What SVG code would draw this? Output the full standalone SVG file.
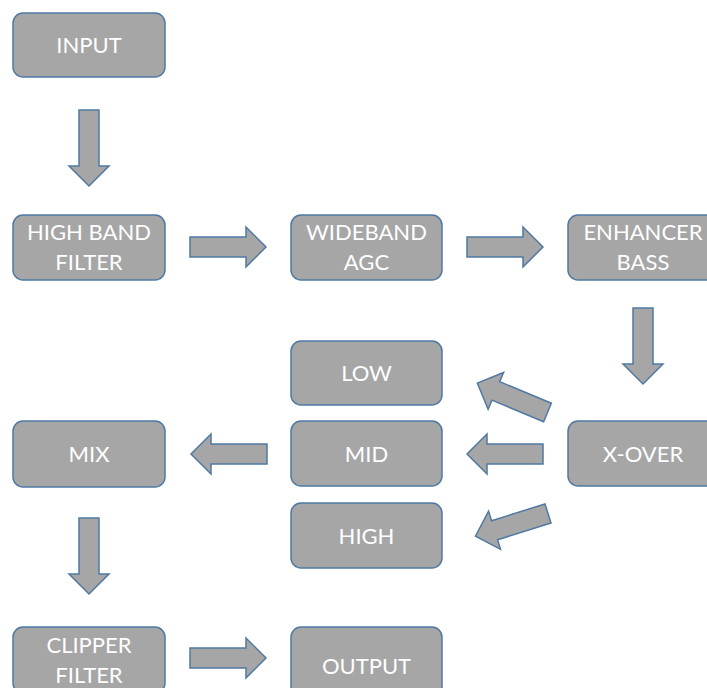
<svg xmlns="http://www.w3.org/2000/svg" width="707" height="688" viewBox="0 0 707 688">
  <style>
    .box { fill: #a6a6a6; stroke: #4f79a3; stroke-width: 1.5; }
    .lbl { fill: #ffffff; font-family: Lato, "Open Sans", "Noto Sans", sans-serif; font-size: 22px; text-anchor: middle; }
    .arrow { fill: #a6a6a6; stroke: #4f79a3; stroke-width: 1.5; stroke-linejoin: miter; }
  </style>
  <defs>
    <!-- block arrow pointing along +x, tail at origin -->
    <path id="blockArrow" d="M0,-10 H56 V-20 L76,0 L56,20 V10 H0 Z"/>
  </defs>
  <rect width="707" height="688" fill="#ffffff"/>

  <g id="connectors">
    <use href="#blockArrow" class="arrow" transform="translate(89,110) rotate(90)"/>
    <use href="#blockArrow" class="arrow" transform="translate(190,247)"/>
    <use href="#blockArrow" class="arrow" transform="translate(467,247)"/>
    <use href="#blockArrow" class="arrow" transform="translate(643,308) rotate(90)"/>
    <use href="#blockArrow" class="arrow" transform="translate(547.5,412.5) rotate(-157.3)"/>
    <use href="#blockArrow" class="arrow" transform="translate(543,454) rotate(180)"/>
    <use href="#blockArrow" class="arrow" transform="translate(548,513.5) rotate(162.6)"/>
    <use href="#blockArrow" class="arrow" transform="translate(267,454) rotate(180)"/>
    <use href="#blockArrow" class="arrow" transform="translate(89,518) rotate(90)"/>
    <use href="#blockArrow" class="arrow" transform="translate(190,658)"/>
  </g>

  <g id="input">
    <rect class="box" x="13" y="13" width="152" height="64" rx="10"/>
    <text class="lbl" x="89" y="53">INPUT</text>
  </g>
  <g id="high-band-filter">
    <rect class="box" x="13" y="215" width="152" height="65" rx="10"/>
    <text class="lbl" x="89" y="240">HIGH BAND</text>
    <text class="lbl" x="89" y="270">FILTER</text>
  </g>
  <g id="wideband-agc">
    <rect class="box" x="291" y="215" width="151" height="65" rx="10"/>
    <text class="lbl" x="366.5" y="240">WIDEBAND</text>
    <text class="lbl" x="366.5" y="270">AGC</text>
  </g>
  <g id="enhancer-bass">
    <rect class="box" x="568" y="215" width="152" height="65" rx="10"/>
    <text class="lbl" x="643" y="240">ENHANCER</text>
    <text class="lbl" x="643" y="270">BASS</text>
  </g>
  <g id="low">
    <rect class="box" x="291" y="341" width="151" height="64" rx="10"/>
    <text class="lbl" x="366.5" y="381">LOW</text>
  </g>
  <g id="mid">
    <rect class="box" x="291" y="421" width="151" height="65" rx="10"/>
    <text class="lbl" x="366.5" y="462">MID</text>
  </g>
  <g id="high">
    <rect class="box" x="291" y="503" width="151" height="65" rx="10"/>
    <text class="lbl" x="366.5" y="544">HIGH</text>
  </g>
  <g id="x-over">
    <rect class="box" x="568" y="421" width="152" height="65" rx="10"/>
    <text class="lbl" x="643" y="462">X-OVER</text>
  </g>
  <g id="mix">
    <rect class="box" x="13" y="421" width="152" height="66" rx="10"/>
    <text class="lbl" x="89" y="462">MIX</text>
  </g>
  <g id="clipper-filter">
    <rect class="box" x="13" y="627" width="152" height="66" rx="10"/>
    <text class="lbl" x="89" y="653">CLIPPER</text>
    <text class="lbl" x="89" y="683">FILTER</text>
  </g>
  <g id="output">
    <rect class="box" x="291" y="627" width="151" height="75" rx="10"/>
    <text class="lbl" x="366.5" y="674">OUTPUT</text>
  </g>
</svg>
